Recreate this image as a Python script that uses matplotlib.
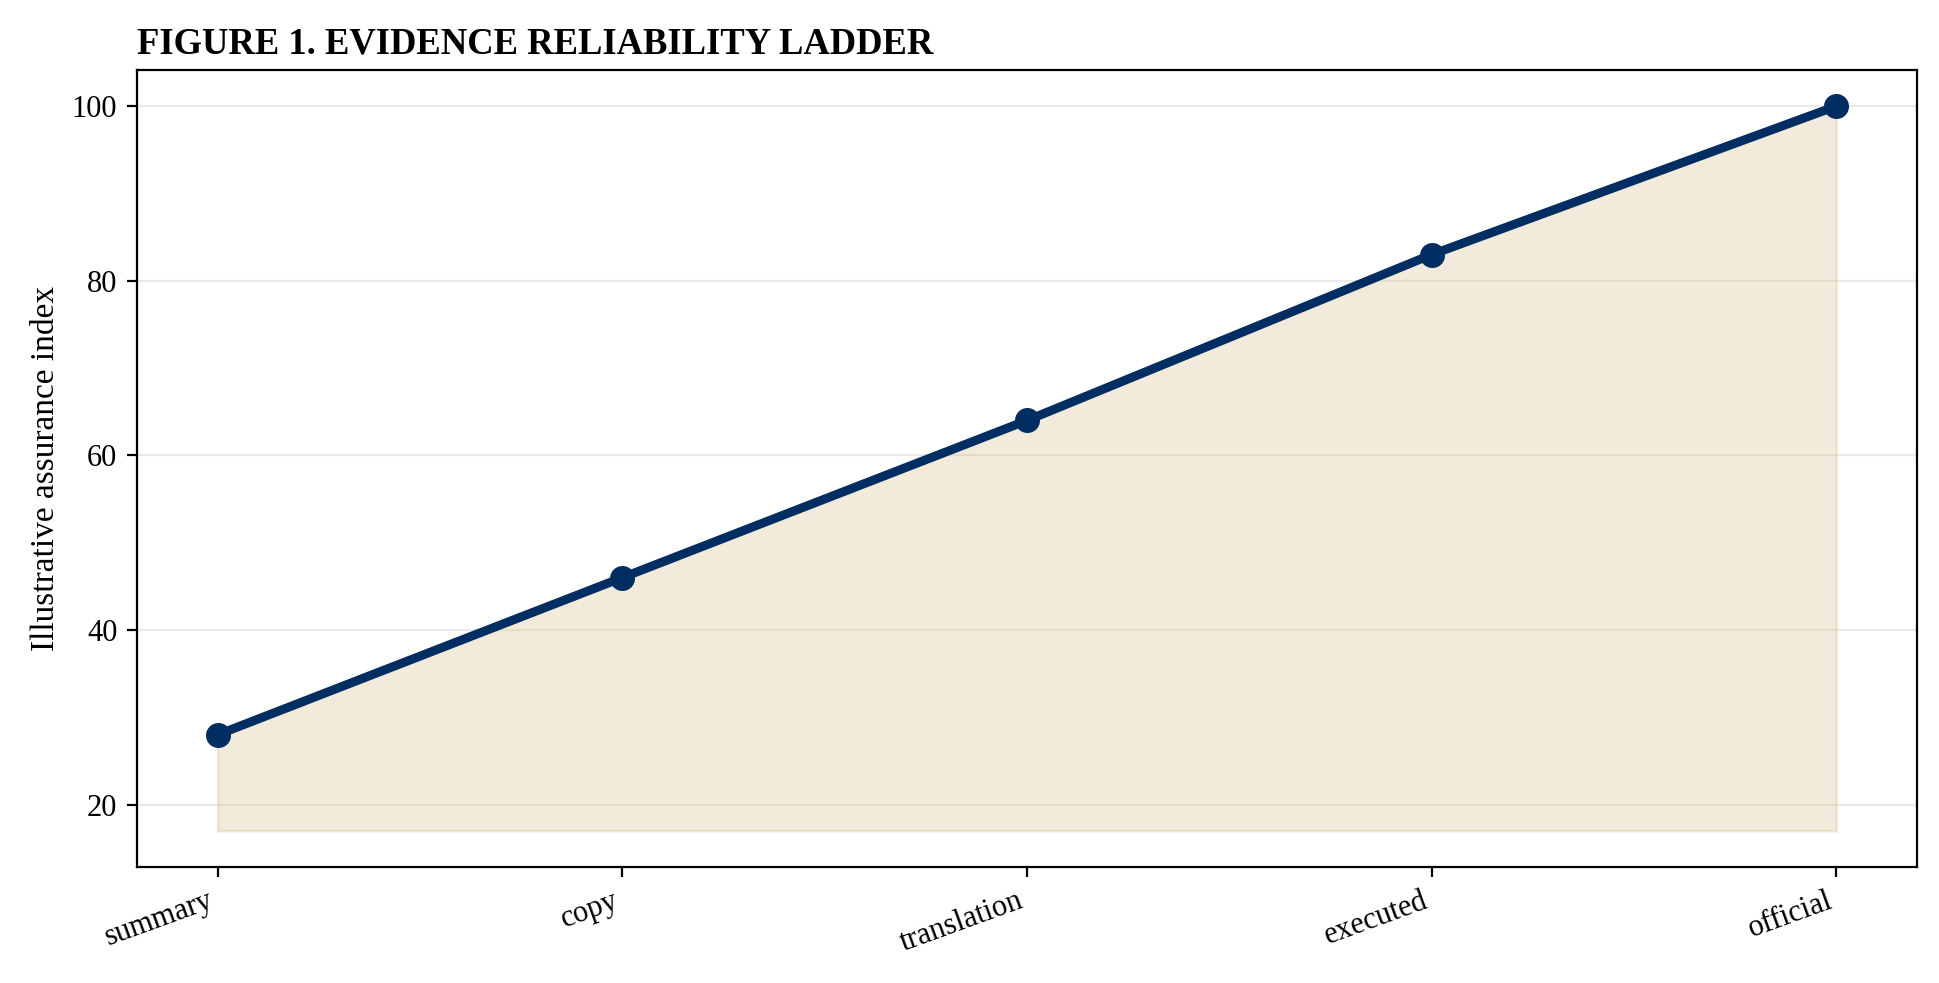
import matplotlib
matplotlib.use("Agg")
import matplotlib.pyplot as plt

categories = ["summary", "copy", "translation", "executed", "official"]
values = [28, 46, 64, 83, 100]
fill_base = 17

plt.rcParams['font.family'] = ['Liberation Serif', 'DejaVu Serif']

fig = plt.figure(figsize=(9.695, 4.915), dpi=200)
ax = fig.add_subplot(111)
fig.subplots_adjust(left=0.0705, right=0.9887, top=0.9288, bottom=0.118)

x = list(range(len(categories)))
ax.fill_between(x, values, fill_base, color="#D9C38F", alpha=0.32, linewidth=1.0, edgecolor="#D9C38F")
ax.plot(x, values, color="#002D62", linewidth=3.2, marker="o", markersize=8, zorder=3)

ax.set_xticks(x)
ax.set_xticklabels(categories, rotation=20, ha="right", fontsize=11)
ax.tick_params(axis='y', labelsize=11)
ax.set_yticks([20, 40, 60, 80, 100])
ax.grid(axis='y', color="#DDDDDD", alpha=0.6, linewidth=0.8)
ax.set_axisbelow(True)
ax.set_ylabel("Illustrative assurance index", fontsize=12)
ax.set_title("FIGURE 1. EVIDENCE RELIABILITY LADDER", loc="left", fontweight="bold", fontsize=13.2)

fig.savefig("out.png", dpi=200)
